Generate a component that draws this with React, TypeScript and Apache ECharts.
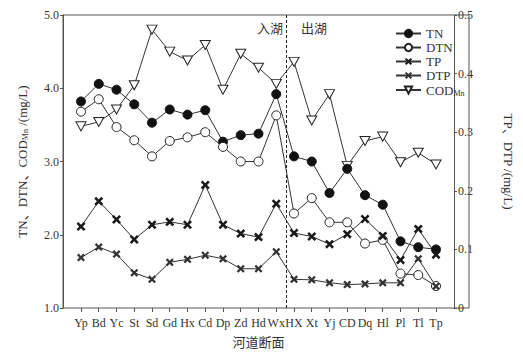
import React, { useEffect, useRef } from "react";
import * as echarts from "echarts";

const categories = ["Yp", "Bd", "Yc", "St", "Sd", "Gd", "Hx", "Cd", "Dp", "Zd", "Hd", "Wx", "HX", "Xt", "Yj", "CD", "Dq", "Hl", "Pl", "Tl", "Tp"];
const tnValues = [3.82, 4.06, 3.98, 3.78, 3.53, 3.71, 3.64, 3.70, 3.27, 3.36, 3.38, 3.92, 3.07, 3.00, 2.57, 2.90, 2.54, 2.41, 1.91, 1.83, 1.80];
const dtnValues = [3.68, 3.85, 3.47, 3.29, 3.07, 3.28, 3.33, 3.40, 3.20, 3.00, 3.00, 3.63, 2.29, 2.50, 2.17, 2.17, 1.88, 1.93, 1.47, 1.45, 1.30];
const codValues = [3.48, 3.54, 3.71, 4.04, 4.80, 4.50, 4.38, 4.59, 3.98, 4.47, 4.28, 4.06, 4.36, 3.56, 3.92, 2.94, 3.28, 3.34, 2.99, 3.12, 2.96];
const tpValues = [0.139, 0.182, 0.151, 0.117, 0.142, 0.147, 0.142, 0.210, 0.142, 0.127, 0.121, 0.178, 0.128, 0.122, 0.109, 0.126, 0.152, 0.123, 0.082, 0.135, 0.091];
const dtpValues = [0.086, 0.104, 0.092, 0.060, 0.049, 0.078, 0.083, 0.090, 0.084, 0.067, 0.067, 0.096, 0.049, 0.048, 0.043, 0.040, 0.041, 0.043, 0.043, 0.084, 0.037];
const leftTicks = ["1.0", "2.0", "3.0", "4.0", "5.0"];
const rightTicks = ["0", "0.1", "0.2", "0.3", "0.4", "0.5"];
const boundaryPosition = 11.56;

const SERIF = '"Liberation Serif", "Times New Roman", "Noto Sans CJK SC", serif';
const CJK = '"Noto Sans CJK SC", "Liberation Serif", sans-serif';
const LINE = "#333";
const AXIS = "#555";
const TEXT = "#333";

const xSymbol = "path://M0,2 L2,0 L5,3 L8,0 L10,2 L7,5 L10,8 L8,10 L5,7 L2,10 L0,8 L3,5 Z";
const triDown = "path://M0,0 L10,0 L5,9 Z";

const toPairs = (arr: number[]) => arr.map((v, i) => [i, v]);

export default function App() {
  const ref = useRef<HTMLDivElement>(null);
  useEffect(() => {
    if (!ref.current) return;
    const chart = echarts.init(ref.current, undefined, { renderer: "svg" });
    const subRich = {
      sub: { fontSize: 8, fontFamily: SERIF, color: TEXT, verticalAlign: "bottom", padding: [6, 0, 0, 0] },
    };
    const baseLine = { color: LINE, width: 1 };
    chart.setOption({
      animation: false,
      backgroundColor: "#fff",
      textStyle: { fontFamily: SERIF, color: TEXT },
      grid: { left: 81, right: 72, top: 15, bottom: 47, containLabel: false },
      legend: {
        orient: "vertical",
        left: 390,
        top: 22,
        itemWidth: 25,
        itemHeight: 9,
        itemGap: 1,
        textStyle: {
          fontFamily: SERIF,
          fontSize: 13,
          lineHeight: 13,
          color: TEXT,
          rich: {
            main: { fontFamily: SERIF, fontSize: 13, lineHeight: 13, color: TEXT },
            sub: { fontFamily: SERIF, fontSize: 8, lineHeight: 13, color: TEXT, padding: [6, 0, 0, 0] },
          },
        },
        formatter: (name: string) => (name === "CODMn" ? "{main|COD}{sub|Mn}" : name),
        data: ["TN", "DTN", "TP", "DTP", "CODMn"],
      },
      xAxis: {
        type: "value",
        min: 0,
        max: 20,
        interval: 1,
        name: "河道断面",
        nameLocation: "middle",
        nameGap: 27,
        nameTextStyle: { fontFamily: CJK, fontSize: 13, color: TEXT },
        axisLine: { show: false, onZero: false },
        axisTick: { show: true, length: 4, lineStyle: { color: AXIS } },
        axisLabel: {
          margin: 9,
          fontSize: 12,
          fontFamily: SERIF,
          color: TEXT,
          formatter: (v: number) => categories[Math.round(v)] ?? "",
        },
        splitLine: { show: false },
      },
      yAxis: [
        {
          type: "value",
          min: 1,
          max: 5,
          interval: 1,
          offset: 18,
          position: "left",
          name: "TN、DTN、COD{sub|Mn} /(mg/L)",
          nameLocation: "middle",
          nameGap: 34,
          nameTextStyle: { fontFamily: SERIF, fontSize: 13, color: TEXT, rich: subRich },
          axisLine: { show: true, onZero: false, lineStyle: { color: AXIS } },
          axisTick: { show: true, length: 3, lineStyle: { color: AXIS } },
          axisLabel: {
            margin: 4,
            fontSize: 12,
            color: TEXT,
            fontFamily: SERIF,
            formatter: (v: number) => leftTicks[Math.round(v - 1)] ?? "",
          },
          splitLine: { show: false },
        },
        {
          type: "value",
          min: 0,
          max: 0.5,
          interval: 0.1,
          offset: 18,
          position: "right",
          name: "TP、DTP /(mg/L)",
          nameLocation: "middle",
          nameRotate: -90,
          nameGap: 48,
          nameTextStyle: { fontFamily: SERIF, fontSize: 13, color: TEXT },
          axisLine: { show: true, onZero: false, lineStyle: { color: AXIS } },
          axisTick: { show: true, length: 3, lineStyle: { color: AXIS } },
          axisLabel: {
            margin: 4,
            fontSize: 12,
            color: TEXT,
            fontFamily: SERIF,
            formatter: (v: number) => rightTicks[Math.round(v * 10)] ?? "",
          },
          splitLine: { show: false },
        },
      ],
      graphic: [
        {
          type: "rect",
          shape: { x: 63, y: 15, width: 406, height: 293 },
          style: { fill: "none", stroke: AXIS, lineWidth: 1 },
          silent: true,
          z: 1,
        },
        {
          type: "text",
          x: 257,
          y: 21,
          style: { text: "入湖", font: `13px ${CJK}`, fill: TEXT },
        },
        {
          type: "text",
          x: 301,
          y: 21,
          style: { text: "出湖", font: `13px ${CJK}`, fill: TEXT },
        },
      ],
      series: [
        {
          name: "CODMn",
          type: "line",
          yAxisIndex: 0,
          data: toPairs(codValues),
          symbol: triDown,
          symbolSize: [10, 9],
          lineStyle: baseLine,
          itemStyle: { color: "#fff", borderColor: "#222", borderWidth: 1 },
          markLine: {
            silent: true,
            symbol: "none",
            label: { show: false },
            lineStyle: { color: "#222", type: [3, 2], width: 1 },
            data: [{ xAxis: boundaryPosition }],
          },
        },
        {
          name: "TN",
          type: "line",
          yAxisIndex: 0,
          data: toPairs(tnValues),
          symbol: "circle",
          symbolSize: 9,
          lineStyle: baseLine,
          itemStyle: { color: "#111", borderColor: "#111", borderWidth: 1 },
        },
        {
          name: "DTN",
          type: "line",
          yAxisIndex: 0,
          data: toPairs(dtnValues),
          symbol: "circle",
          symbolSize: 9,
          lineStyle: baseLine,
          itemStyle: { color: "#fff", borderColor: "#222", borderWidth: 1 },
        },
        {
          name: "TP",
          type: "line",
          yAxisIndex: 1,
          data: toPairs(tpValues),
          symbol: xSymbol,
          symbolSize: 9,
          lineStyle: baseLine,
          itemStyle: { color: "#1a1a1a" },
        },
        {
          name: "DTP",
          type: "line",
          yAxisIndex: 1,
          data: toPairs(dtpValues),
          symbol: xSymbol,
          symbolSize: 8,
          lineStyle: baseLine,
          itemStyle: { color: "#333" },
        },
      ],
    });
    return () => chart.dispose();
  }, []);
  return (
    <div
      ref={ref}
      style={{ position: "fixed", left: 0, top: 0, width: 523, height: 355, background: "#fff" }}
    />
  );
}
